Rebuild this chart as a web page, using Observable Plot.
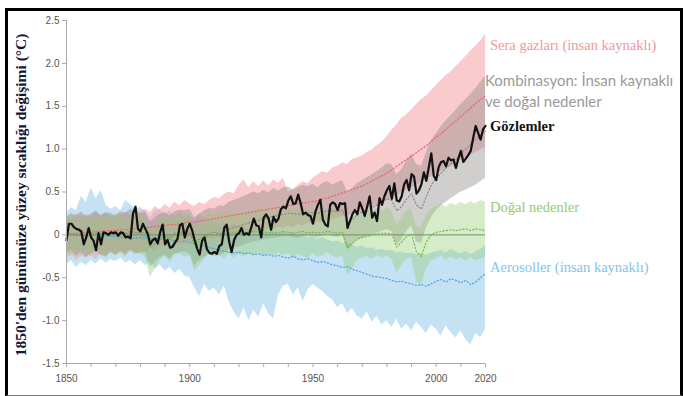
<!DOCTYPE html>
<html><head><meta charset="utf-8">
<script src="https://cdn.jsdelivr.net/npm/d3@7"></script>
<script src="https://cdn.jsdelivr.net/npm/@observablehq/plot@0.6"></script>
<style>
html,body{margin:0;padding:0;background:#fff;}
#wrap{position:relative;width:683px;height:396px;overflow:hidden;background:#fff;}
#frame{position:absolute;left:5px;top:8px;width:678px;height:388px;box-sizing:border-box;border-top:3px solid #000;border-left:3px solid #000;border-right:3px solid #000;border-bottom:1px solid #777;pointer-events:none;}
#chart{position:absolute;left:0;top:0;}
</style></head><body>
<div id="wrap"><div id="chart"></div><div id="frame"></div></div>
<script>
// ---- Data ----
const obsYears = d3.range(1850, 2021);
const observed = [
 -0.06,0.13,0.13,0.09,0.07,0.06,0.04,-0.11,-0.03,0.08,
 -0.03,-0.07,-0.18,0.02,-0.11,0.03,0.02,0.00,0.03,0.02,
 0.03,-0.01,0.03,0.02,-0.03,-0.02,-0.04,0.25,0.33,0.07,
 0.04,0.13,0.07,0.01,-0.11,-0.06,-0.04,-0.10,0.03,0.12,
 -0.11,-0.06,-0.15,-0.14,-0.09,-0.05,0.11,0.13,-0.03,0.07,
 0.13,0.05,-0.06,-0.16,-0.23,-0.07,-0.03,-0.17,-0.21,-0.22,
 -0.20,-0.22,-0.13,-0.11,0.08,0.12,-0.08,-0.20,-0.06,0.00,
 0.02,0.08,0.00,0.02,0.00,0.09,0.19,0.11,0.10,-0.03,
 0.20,0.24,0.19,0.06,0.21,0.15,0.19,0.30,0.33,0.31,
 0.40,0.45,0.36,0.37,0.47,0.37,0.24,0.26,0.23,0.22,
 0.13,0.27,0.35,0.41,0.18,0.12,0.10,0.35,0.38,0.36,
 0.29,0.37,0.36,0.37,0.08,0.16,0.24,0.29,0.24,0.38,
 0.31,0.22,0.33,0.45,0.20,0.26,0.16,0.43,0.35,0.45,
 0.52,0.57,0.42,0.60,0.40,0.39,0.45,0.59,0.64,0.52,
 0.71,0.68,0.48,0.52,0.59,0.73,0.63,0.79,0.95,0.69,
 0.64,0.79,0.85,0.86,0.80,0.90,0.87,0.88,0.78,0.89,
 0.98,0.85,0.89,0.93,0.98,1.13,1.27,1.19,1.11,1.23,
 1.27
];

const bandYears = d3.range(1850, 2021, 2);

// Greenhouse gases (human-caused)
const ghgMid = [
 0.00,0.01,0.02,0.02,0.03, 0.03,0.04,0.04,0.05,0.05, 0.05,0.06,0.06,0.07,0.07, 0.08,0.08,0.09,0.10,0.10,
 0.11,0.12,0.12,0.13,0.14, 0.15,0.15,0.16,0.17,0.18, 0.19,0.20,0.21,0.22,0.23, 0.24,0.25,0.26,0.27,0.28,
 0.29,0.30,0.31,0.32,0.33, 0.34,0.35,0.36,0.37,0.38, 0.39,0.40,0.42,0.43,0.45, 0.47,0.49,0.51,0.53,0.55,
 0.57,0.60,0.63,0.66,0.69, 0.72,0.76,0.80,0.84,0.88, 0.92,0.96,1.00,1.04,1.09, 1.14,1.18,1.23,1.28,1.33,
 1.38,1.43,1.48,1.53,1.58, 1.62];
const ghgHi = [
 0.22,0.18,0.25,0.20,0.24, 0.21,0.26,0.22,0.25,0.20, 0.24,0.22,0.27,0.23,0.26, 0.28,0.30,0.26,0.33,0.29,
 0.35,0.31,0.38,0.34,0.40, 0.36,0.33,0.38,0.35,0.40, 0.44,0.42,0.47,0.50,0.48, 0.58,0.64,0.55,0.62,0.56,
 0.63,0.57,0.64,0.60,0.66, 0.50,0.53,0.58,0.62,0.60, 0.66,0.70,0.74,0.72,0.78, 0.80,0.84,0.82,0.88,0.90,
 0.92,0.96,0.99,1.04,1.08, 1.14,1.22,1.28,1.36,1.40, 1.46,1.52,1.58,1.62,1.68, 1.74,1.80,1.86,1.90,1.96,
 2.02,2.08,2.14,2.20,2.26, 2.34];
const ghgLo = [
 -0.28,-0.22,-0.30,-0.25,-0.27, -0.24,-0.29,-0.22,-0.26,-0.21, -0.25,-0.20,-0.24,-0.19,-0.22, -0.18,-0.21,-0.16,-0.19,-0.14,
 -0.15,-0.12,-0.14,-0.10,-0.12, -0.08,-0.10,-0.06,-0.08,-0.04, -0.06,-0.02,-0.04,0.00,-0.02, 0.02,0.00,0.04,0.02,0.06,
 0.04,0.07,0.05,0.09,0.07, 0.10,0.08,0.12,0.10,0.14, 0.12,0.15,0.14,0.17,0.18, 0.20,0.21,0.23,0.24,0.26,
 0.28,0.30,0.33,0.35,0.38, 0.40,0.43,0.46,0.49,0.52, 0.55,0.58,0.61,0.64,0.68, 0.71,0.74,0.77,0.80,0.84,
 0.87,0.90,0.93,0.96,0.99, 1.02];

// Combination: human-caused and natural
const combMid = [
 0.00,0.01,-0.01,0.00,-0.02, 0.00,0.02,0.01,0.00,0.02, 0.01,0.03,0.02,0.04,0.03, 0.02,0.03,-0.10,-0.06,-0.02,
 0.00,-0.03,0.02,0.03,0.04, 0.03,-0.08,-0.05,-0.01,0.02, 0.03,0.01,0.04,0.07,0.09, 0.10,0.12,0.14,0.16,0.17,
 0.19,0.20,0.22,0.23,0.24, 0.25,0.25,0.24,0.25,0.26, 0.26,0.25,0.27,0.28,0.28, 0.27,0.29,0.15,0.18,0.24,
 0.27,0.30,0.32,0.35,0.38, 0.42,0.40,0.28,0.33,0.42, 0.48,0.35,0.30,0.45,0.58, 0.66,0.72,0.78,0.83,0.88,
 0.94,1.00,1.06,1.11,1.17, 1.21];
const combHi = [
 0.20,0.25,0.22,0.27,0.21, 0.24,0.28,0.22,0.26,0.25, 0.22,0.27,0.25,0.30,0.26, 0.25,0.27,0.15,0.20,0.24,
 0.26,0.22,0.27,0.29,0.28, 0.30,0.20,0.24,0.28,0.31, 0.30,0.34,0.33,0.38,0.40, 0.42,0.45,0.47,0.50,0.48,
 0.52,0.49,0.54,0.51,0.55, 0.56,0.52,0.55,0.58,0.56, 0.59,0.55,0.60,0.62,0.58, 0.61,0.63,0.50,0.54,0.60,
 0.63,0.67,0.70,0.74,0.78, 0.83,0.82,0.70,0.76,0.86, 0.94,0.82,0.80,0.96,1.10, 1.18,1.26,1.33,1.39,1.45,
 1.52,1.58,1.64,1.70,1.78, 1.85];
const combLo = [
 -0.22,-0.18,-0.25,-0.20,-0.26, -0.22,-0.19,-0.24,-0.25,-0.20, -0.23,-0.19,-0.22,-0.17,-0.21, -0.22,-0.20,-0.38,-0.32,-0.26,
 -0.24,-0.28,-0.22,-0.21,-0.20, -0.22,-0.36,-0.30,-0.26,-0.22, -0.22,-0.25,-0.21,-0.17,-0.15, -0.14,-0.12,-0.10,-0.08,-0.07,
 -0.06,-0.05,-0.04,-0.03,-0.02, -0.02,-0.03,-0.04,-0.02,-0.01, -0.02,-0.03,-0.01,0.00,-0.02, -0.03,-0.01,-0.18,-0.12,-0.06,
 -0.04,-0.02,0.00,0.02,0.04, 0.06,0.04,-0.12,-0.06,0.04, 0.10,-0.08,-0.10,0.08,0.20, 0.28,0.34,0.38,0.42,0.46,
 0.50,0.52,0.55,0.58,0.62, 0.66];

// Natural causes
const natMid = [
 0.00,0.02,-0.01,0.01,-0.02, 0.01,0.00,0.02,-0.01,0.01, 0.02,0.00,0.01,0.03,0.02, 0.01,0.00,-0.15,-0.10,-0.05,
 -0.02,-0.05,0.00,0.01,0.02, 0.01,-0.12,-0.08,-0.03,0.00, 0.00,-0.02,0.01,0.02,0.03, 0.02,0.03,0.02,0.04,0.03,
 0.02,0.03,0.02,0.03,0.04, 0.03,0.02,0.03,0.04,0.02, 0.03,0.02,0.03,0.04,0.03, 0.02,0.03,-0.15,-0.10,-0.05,
 -0.03,-0.02,0.00,0.01,0.02, 0.02,0.01,-0.14,-0.08,-0.02, 0.01,-0.20,-0.25,-0.08,0.00, 0.03,0.04,0.05,0.06,0.05,
 0.06,0.07,0.05,0.07,0.06, 0.05];
const natHi = [
 0.18,0.24,0.16,0.22,0.15, 0.23,0.17,0.25,0.19,0.24, 0.20,0.26,0.18,0.25,0.21, 0.24,0.19,0.05,0.10,0.18,
 0.22,0.16,0.24,0.20,0.26, 0.23,0.08,0.14,0.20,0.25, 0.22,0.27,0.21,0.28,0.24, 0.29,0.23,0.30,0.25,0.31,
 0.26,0.32,0.27,0.30,0.25, 0.31,0.26,0.29,0.33,0.27, 0.30,0.25,0.32,0.28,0.31, 0.27,0.30,0.10,0.18,0.24,
 0.26,0.30,0.25,0.31,0.27, 0.32,0.28,0.12,0.20,0.28, 0.30,0.10,0.08,0.22,0.30, 0.33,0.36,0.32,0.37,0.34,
 0.38,0.35,0.39,0.36,0.40, 0.38];
const natLo = [
 -0.20,-0.26,-0.18,-0.24,-0.21, -0.25,-0.19,-0.23,-0.27,-0.20, -0.24,-0.21,-0.26,-0.19,-0.23, -0.22,-0.26,-0.50,-0.40,-0.30,
 -0.25,-0.32,-0.24,-0.22,-0.26, -0.24,-0.42,-0.36,-0.28,-0.23, -0.26,-0.24,-0.28,-0.22,-0.27, -0.23,-0.26,-0.22,-0.25,-0.21,
 -0.26,-0.22,-0.25,-0.21,-0.24, -0.22,-0.27,-0.23,-0.25,-0.28, -0.22,-0.26,-0.24,-0.21,-0.25, -0.27,-0.24,-0.48,-0.40,-0.30,
 -0.27,-0.25,-0.29,-0.24,-0.27, -0.25,-0.28,-0.45,-0.36,-0.29, -0.26,-0.55,-0.60,-0.40,-0.30, -0.28,-0.25,-0.30,-0.26,-0.29,
 -0.27,-0.31,-0.26,-0.30,-0.28, -0.27];

// Aerosols (human-caused)
const aerMid = [
 0.00,0.01,-0.01,0.00,-0.01, -0.01,0.00,-0.02,-0.01,-0.02, -0.02,-0.03,-0.02,-0.03,-0.04, -0.03,-0.04,-0.05,-0.04,-0.05,
 -0.06,-0.05,-0.07,-0.08,-0.07, -0.09,-0.10,-0.12,-0.13,-0.15, -0.16,-0.18,-0.19,-0.20,-0.21, -0.20,-0.22,-0.21,-0.23,-0.22,
 -0.24,-0.23,-0.25,-0.24,-0.26, -0.27,-0.25,-0.28,-0.29,-0.28, -0.30,-0.32,-0.31,-0.33,-0.35, -0.36,-0.38,-0.37,-0.40,-0.42,
 -0.44,-0.46,-0.48,-0.49,-0.50, -0.51,-0.53,-0.55,-0.54,-0.56, -0.57,-0.59,-0.58,-0.60,-0.57, -0.54,-0.52,-0.55,-0.51,-0.53,
 -0.56,-0.53,-0.58,-0.55,-0.50, -0.45];
const aerHi = [
 0.25,0.32,0.28,0.45,0.38, 0.55,0.42,0.52,0.35,0.30, 0.33,0.28,0.40,0.35,0.30, 0.32,0.27,0.20,0.28,0.30,
 0.24,0.28,0.22,0.26,0.20, 0.22,0.18,0.24,0.20,0.17, 0.15,0.12,0.14,0.10,0.12, 0.08,0.10,0.06,0.09,0.05,
 0.06,0.03,0.05,0.02,0.04, 0.00,0.03,-0.02,0.01,-0.03, -0.02,-0.05,-0.03,-0.06,-0.08, -0.07,-0.10,-0.09,-0.12,-0.14,
 -0.13,-0.16,-0.15,-0.18,-0.17, -0.19,-0.18,-0.21,-0.20,-0.22, -0.21,-0.23,-0.22,-0.24,-0.21, -0.20,-0.18,-0.21,-0.17,-0.20,
 -0.22,-0.19,-0.23,-0.20,-0.17, -0.12];
const aerLo = [
 -0.35,-0.30,-0.38,-0.32,-0.36, -0.30,-0.34,-0.28,-0.33,-0.29, -0.31,-0.27,-0.33,-0.30,-0.35, -0.30,-0.36,-0.32,-0.40,-0.35,
 -0.42,-0.38,-0.45,-0.40,-0.48, -0.50,-0.62,-0.72,-0.58,-0.66, -0.62,-0.70,-0.60,-0.78,-0.90, -0.98,-0.85,-1.00,-0.88,-0.96,
 -0.80,-0.92,-0.98,-0.70,-0.60, -0.58,-0.70,-0.62,-0.78,-0.64, -0.58,-0.62,-0.66,-0.72,-0.76, -0.85,-0.80,-0.92,-0.86,-0.95,
 -0.98,-0.90,-1.02,-0.95,-1.05, -1.00,-1.08,-0.98,-1.10,-1.04, -1.12,-1.02,-1.08,-1.15,-1.05, -1.10,-1.18,-1.06,-1.14,-1.20,
 -1.12,-1.22,-1.28,-1.15,-1.20, -1.10];

const xTicks = d3.range(1850, 2021, 10);
const xLabels = [1850, 1900, 1950, 2000, 2020];
const yTicks = [-1.5, -1.0, -0.5, 0, 0.5, 1.0, 1.5, 2.0, 2.5];

const legendLabels = {
  ghg: "Sera gazları (insan kaynaklı)",
  comb1: "Kombinasyon: İnsan kaynaklı",
  comb2: "ve doğal nedenler",
  obs: "Gözlemler",
  nat: "Doğal nedenler",
  aer: "Aerosoller (insan kaynaklı)"
};
const yTitle = "1850'den günümüze yüzey sıcaklığı değişimi (°C)";

// ---- Build tables ----
const band = (lo, mid, hi) => bandYears.map((year, i) => ({year, lo: lo[i], mid: mid[i], hi: hi[i]}));
const ghg = band(ghgLo, ghgMid, ghgHi);
const comb = band(combLo, combMid, combHi);
const nat = band(natLo, natMid, natHi);
const aer = band(aerLo, aerMid, aerHi);
const obs = obsYears.map((year, i) => ({year, v: observed[i]}));

const dot = "1.2,2.2";
const plot = Plot.plot({
  width: 683, height: 396,
  marginLeft: 66, marginRight: 198, marginTop: 20, marginBottom: 33,
  x: {domain: [1850, 2020]},
  y: {domain: [-1.5, 2.5]},
  style: {fontFamily: "'Liberation Sans', Arial, sans-serif", fontSize: "10px", color: "#555", background: "transparent"},
  marks: [
    Plot.areaY(aer, {x: "year", y1: "lo", y2: "hi", fill: "#7fbfe8", fillOpacity: 0.45}),
    Plot.areaY(ghg, {x: "year", y1: "lo", y2: "hi", fill: "#f4a0a6", fillOpacity: 0.55}),
    Plot.areaY(comb, {x: "year", y1: "lo", y2: "hi", fill: "#8c8484", fillOpacity: 0.4}),
    Plot.areaY(nat, {x: "year", y1: "lo", y2: "hi", fill: "#94cc70", fillOpacity: 0.38}),
    Plot.ruleY([0], {stroke: "#748a74", strokeWidth: 1}),
    Plot.lineY(aer, {x: "year", y: "mid", stroke: "#4fa3dc", strokeWidth: 1.2, strokeDasharray: dot}),
    Plot.lineY(nat, {x: "year", y: "mid", stroke: "#6fbf3a", strokeWidth: 1.2, strokeDasharray: dot}),
    Plot.lineY(ghg, {x: "year", y: "mid", stroke: "#e8646c", strokeWidth: 1.2, strokeDasharray: dot}),
    Plot.lineY(comb, {x: "year", y: "mid", stroke: "#8a8a8a", strokeWidth: 1.2, strokeDasharray: dot}),
    Plot.lineY(obs, {x: "year", y: "v", stroke: "#111", strokeWidth: 2.2, strokeLinejoin: "round"}),
    Plot.ruleX([1850], {stroke: "#aaa"}),
    Plot.ruleY([-1.5], {stroke: "#aaa"}),
    Plot.axisY({ticks: yTicks, tickFormat: d => d === 0 ? "0" : d.toFixed(1), tickSize: 4, tickPadding: 3, stroke: "#aaa", label: null}),
    Plot.axisX({ticks: xTicks, tickFormat: d => xLabels.includes(d) ? String(d) : "", tickSize: 4, tickPadding: 7, stroke: "#aaa", label: null})
  ]
});
document.getElementById("chart").appendChild(plot);

// ---- Annotations ----
const svg = d3.select(plot);
const serif = "'Liberation Serif', 'Times New Roman', serif";
svg.append("text")
  .attr("transform", "translate(21,195) rotate(-90)")
  .attr("text-anchor", "middle").attr("dy", "0.35em")
  .attr("font-family", serif).attr("font-weight", "bold").attr("font-size", 15.5)
  .attr("fill", "#15153a").text(yTitle);

const lab = (txt, x, y, color, opts = {}) => svg.append("text")
  .attr("x", x).attr("y", y).attr("fill", color)
  .attr("text-anchor", "start")
  .attr("font-family", opts.family || serif)
  .attr("font-size", opts.size || 14.5)
  .attr("font-weight", opts.weight || "normal")
  .text(txt);
lab(legendLabels.ghg, 490, 50, "#f3979e");
lab(legendLabels.comb1, 485, 86, "#9a9a9a", {family: "Lato, 'Open Sans', sans-serif", size: 15});
lab(legendLabels.comb2, 485, 107, "#9a9a9a", {family: "Lato, 'Open Sans', sans-serif", size: 15});
lab(legendLabels.obs, 490, 131, "#111", {weight: "bold"});
lab(legendLabels.nat, 490, 212, "#92cc6c");
lab(legendLabels.aer, 490, 272, "#83c4ec");
</script>
</body></html>
